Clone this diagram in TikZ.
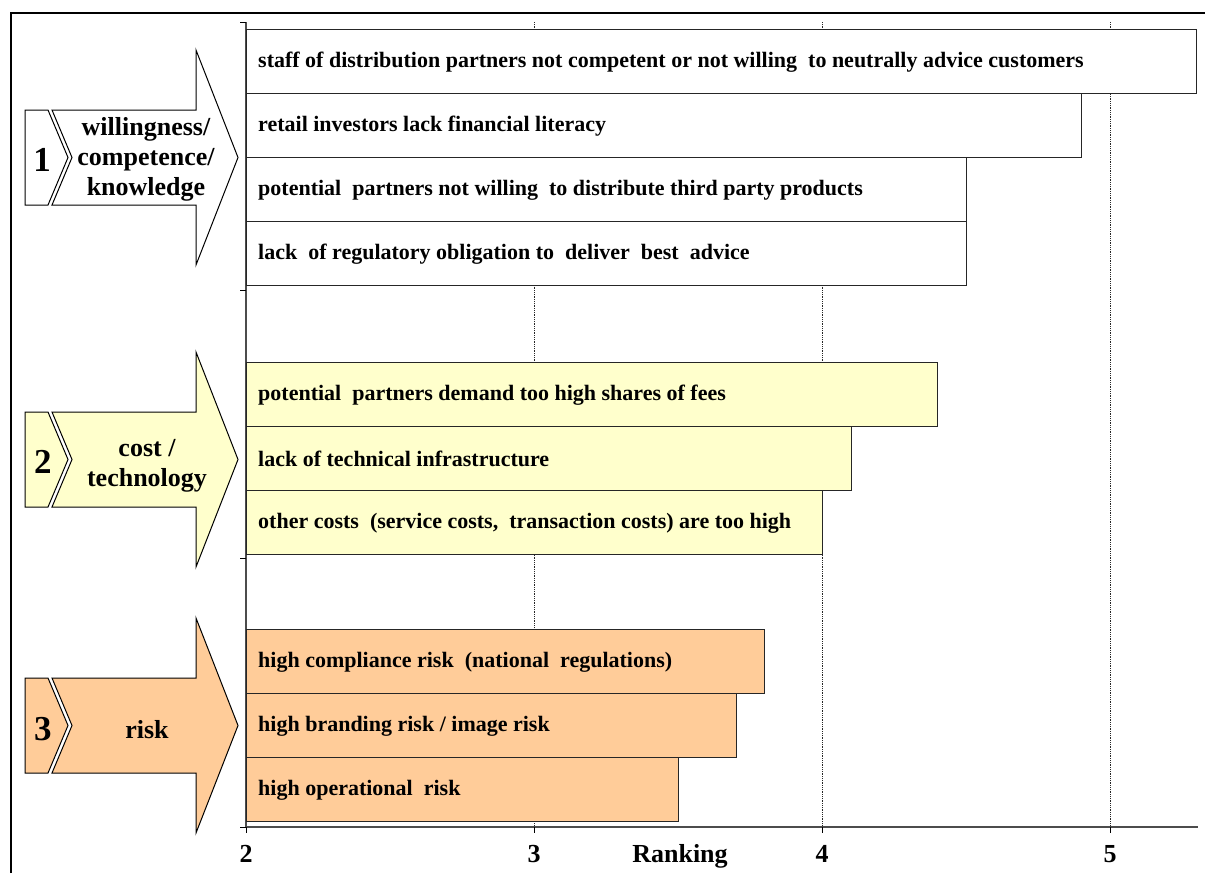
\documentclass[tikz,border=0pt]{standalone}
\usepackage{fontspec}
\setmainfont{Liberation Serif}
\definecolor{paleyellow}{HTML}{FFFFCC}
\definecolor{paleorange}{HTML}{FFCC99}
\begin{document}
\begin{tikzpicture}[x=1pt,y=-1pt,
  bar/.style={draw=black!85, line width=0.9pt, minimum height=64pt, inner sep=0pt, outer sep=0pt, anchor=north west},
  bartext/.style={font=\fontsize{22}{24}\selectfont\bfseries, anchor=west, inner sep=0pt},
  arrowshape/.style={draw=black, line width=1pt, line join=miter},
  grplabel/.style={font=\fontsize{26}{30}\selectfont\bfseries, align=center, inner sep=0pt},
  numlabel/.style={font=\fontsize{35}{38}\selectfont\bfseries, inner sep=0pt},
  axlabel/.style={font=\fontsize{26}{30}\selectfont\bfseries, inner sep=0pt, anchor=base},
  gridline/.style={densely dotted, line width=0.8pt, black!85},
  axisline/.style={line width=1.3pt, black!70},
  frameline/.style={line width=1.5pt, black},
]
\useasboundingbox (0,0) rectangle (1205,873);
% frame
\draw[frameline] (11,873) -- (11,13) -- (1205,13);
% axis coordinates
\coordinate (o) at (246,827);
\coordinate (ytop) at (246,22);
\coordinate (xend) at (1198,827);
\coordinate (g3) at (534,22);
\coordinate (g4) at (822,22);
\coordinate (g5) at (1110,22);
\coordinate (g3b) at (534,827);
\coordinate (g4b) at (822,827);
\coordinate (g5b) at (1110,827);
% grid
\draw[gridline] (g3) -- (g3b);
\draw[gridline] (g4) -- (g4b);
\draw[gridline] (g5) -- (g5b);
% axes
\draw[axisline] (ytop) -- (o) -- (xend);
\foreach \yy in {22,290,558,827} \draw[line width=0.8pt] (240,\yy) -- (246,\yy);
\foreach \xx in {246,534,822,1110} \draw[line width=0.8pt] (\xx,827) -- (\xx,833);
% group 1 bars
\node[bar, fill=white, minimum width=950pt] (b1) at (246,29) {};
\node[bar, fill=white, minimum width=835pt] (b2) at (246,93) {};
\node[bar, fill=white, minimum width=720pt] (b3) at (246,157) {};
\node[bar, fill=white, minimum width=720pt] (b4) at (246,221) {};
\node[bartext] (t1) at ([xshift=12pt,yshift=-1pt]b1.west) {staff of distribution partners not competent or not willing\ \ to neutrally advice customers};
\node[bartext] (t2) at ([xshift=12pt,yshift=-1pt]b2.west) {retail investors lack financial literacy};
\node[bartext] (t3) at ([xshift=12pt,yshift=-1pt]b3.west) {potential\ \ partners not willing\ \ to distribute third party products};
\node[bartext] (t4) at ([xshift=12pt,yshift=-1pt]b4.west) {lack\ \ of regulatory obligation to\ \ deliver\ \ best\ \ advice};
% group 2 bars
\node[bar, fill=paleyellow, minimum width=691pt] (b5) at (246,362) {};
\node[bar, fill=paleyellow, minimum width=605pt] (b6) at (246,426) {};
\node[bar, fill=paleyellow, minimum width=576pt] (b7) at (246,490) {};
\node[bartext] (t5) at ([xshift=12pt,yshift=-1pt]b5.west) {potential\ \ partners demand too high shares of fees};
\node[bartext] (t6) at ([xshift=12pt,yshift=-1pt]b6.west) {lack of technical infrastructure};
\node[bartext] (t7) at ([xshift=12pt,yshift=-1pt]b7.west) {other costs\ \ (service costs,\ \ transaction costs) are too high};
% group 3 bars
\node[bar, fill=paleorange, minimum width=518pt] (b8) at (246,629) {};
\node[bar, fill=paleorange, minimum width=490pt] (b9) at (246,693) {};
\node[bar, fill=paleorange, minimum width=432pt] (b10) at (246,757) {};
\node[bartext] (t8) at ([xshift=12pt,yshift=-1pt]b8.west) {high compliance risk\ \ (national\ \ regulations)};
\node[bartext] (t9) at ([xshift=12pt,yshift=-1pt]b9.west) {high branding risk / image risk};
\node[bartext] (t10) at ([xshift=12pt,yshift=-1pt]b10.west) {high operational\ \ risk};
% group arrows
\foreach \m/\col in {157.5/white, 459.5/paleyellow, 725.5/paleorange}{
  \draw[arrowshape, fill=\col] (52,\m-47.5) -- (196,\m-47.5) -- (196,\m-107.5) -- (238,\m) -- (196,\m+107.5) -- (196,\m+47.5) -- (52,\m+47.5) -- (72,\m) -- cycle;
  \draw[arrowshape, fill=\col] (25,\m-47.5) -- (48,\m-47.5) -- (68,\m) -- (48,\m+47.5) -- (25,\m+47.5) -- cycle;
}
\node[numlabel] (n1) at (42,160) {1};
\node[numlabel] (n2) at (43,462) {2};
\node[numlabel] (n3) at (43,729) {3};
\node[grplabel] (l1) at (146,159) {willingness/\\competence/\\knowledge};
\node[grplabel] (l2) at (147,466) {cost /\\technology};
\node[grplabel] (l3) at (147,730) {risk};
% axis labels
\node[axlabel] (x2) at (246,862) {2};
\node[axlabel] (x3) at (534,862) {3};
\node[axlabel] (x4) at (822,862) {4};
\node[axlabel] (x5) at (1110,862) {5};
\node[axlabel] (xr) at (680,862) {Ranking};
\end{tikzpicture}
\end{document}
